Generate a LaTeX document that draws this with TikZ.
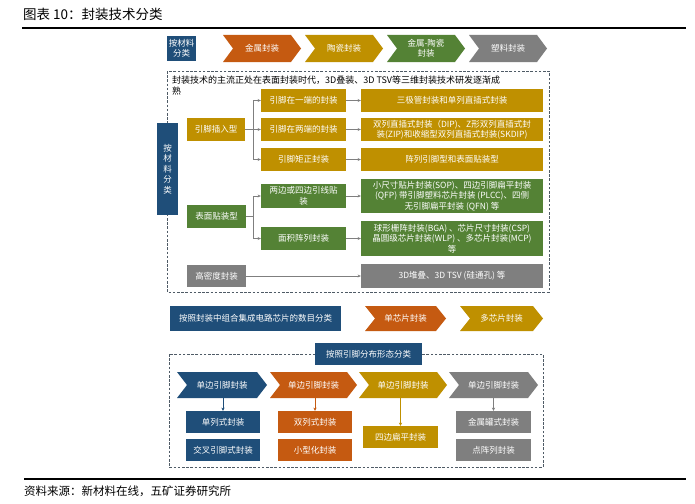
\documentclass[tikz,border=0pt]{standalone}
\usepackage{fontspec}
\setmainfont{Noto Sans CJK SC}
\usetikzlibrary{arrows.meta}
\definecolor{cblue}{HTML}{1F4E79}
\definecolor{corange}{HTML}{C55A11}
\definecolor{cgold}{HTML}{BF9000}
\definecolor{cgreen}{HTML}{548235}
\definecolor{cgray}{HTML}{7F7F7F}
\definecolor{cdash}{HTML}{4F5B66}
\tikzset{
  bx/.style={fill=#1, text=white, inner sep=0pt, align=center, font=\fontsize{8.5}{10.5}\selectfont},
  ctext/.style={text=white, inner sep=0pt, align=center, font=\fontsize{8.5}{10.5}\selectfont},
  hrule/.style={line width=2pt, black},
  dbox/.style={draw=cdash, line width=0.8pt, dash pattern=on 2.6pt off 1.6pt},
  gline/.style={draw=cgray, line width=0.6pt},
  garrow/.style={gline, -{Stealth[length=3.2pt,width=3pt]}},
  carrow/.style={draw=#1, line width=1pt, -{Stealth[length=3.2pt,width=3.2pt]}}
}
\newcommand{\rbox}[7]{%
  \node[bx=#6, minimum width={(#4-#2)*1pt}, minimum height={(#5-#3)*1pt}] (#1) at ({(#2+#4)/2},{(#3+#5)/2}) {#7};}
\newcommand{\mychev}[7]{%
  \fill[#6] (#2,#4) -- ({#3-10},#4) -- (#3,{(#4+#5)/2}) -- ({#3-10},#5) -- (#2,#5) -- ({#2+10},{(#4+#5)/2}) -- cycle;
  \node[ctext] (#1) at ({(#2+#3)/2},{(#4+#5)/2}) {#7};
  \coordinate (#1-s) at ({(#2+#3)/2},#5);}
\begin{document}
\begin{tikzpicture}[x=1pt,y=-1pt]
\useasboundingbox (0,0) rectangle (695,503);
\fill[white] (0,0) rectangle (695,503);
% title and rules
\node[anchor=west, inner sep=0pt, font=\fontsize{13.5}{16}\selectfont] (title) at (23,14) {图表 10：封装技术分类};
\draw[hrule] (22,28) -- (686,28);
\draw[hrule] (24,479) -- (686,479);
\node[anchor=west, inner sep=0pt, font=\fontsize{11.5}{14}\selectfont] (src) at (24,491) {资料来源：新材料在线，五矿证券研究所};
% top row
\rbox{m0}{167}{36}{196}{61}{cblue}{按材料\\分类}
\mychev{c1}{223}{301}{35}{62}{corange}{金属封装}
\mychev{c2}{305}{383}{35}{62}{cgold}{陶瓷封装}
\mychev{c3}{387}{465}{35}{62}{cgreen}{金属-陶瓷\\封装}
\mychev{c4}{469}{547}{35}{62}{cgray}{塑料封装}
% upper dashed box
\draw[dbox] (167,71) rectangle (549,292);
\node[anchor=north west, align=left, inner sep=0pt, font=\fontsize{9}{11}\selectfont] (intro) at (172,76) {封装技术的主流正处在表面封装时代，3D叠装、3D TSV等三维封装技术研发逐渐成\\熟};
\rbox{vm}{157}{123}{178}{215}{cblue}{按\\材\\料\\分\\类}
\rbox{a1}{187}{118}{245}{141}{cgold}{引脚插入型}
\rbox{b1}{261}{89}{346}{112}{cgold}{引脚在一端的封装}
\rbox{b2}{261}{118}{346}{141}{cgold}{引脚在两端的封装}
\rbox{b3}{261}{148}{346}{171}{cgold}{引脚矩正封装}
\rbox{r1}{361}{89}{543}{112}{cgold}{三极管封装和单列直插式封装}
\rbox{r2}{361}{118}{543}{141}{cgold}{双列直插式封装（DIP)、Z形双列直插式封\\装(ZIP)和收缩型双列直插式封装(SKDIP)}
\rbox{r3}{361}{148}{543}{171}{cgold}{阵列引脚型和表面贴装型}
\rbox{a2}{187}{205}{246}{228}{cgreen}{表面贴装型}
\rbox{b4}{261}{184}{346}{208}{cgreen}{两边或四边引线贴\\装}
\rbox{b5}{261}{227}{346}{250}{cgreen}{面积阵列封装}
\rbox{r4}{361}{179}{543}{213}{cgreen}{小尺寸贴片封装(SOP)、四边引脚扁平封装\\(QFP) 带引脚塑料芯片封装 (PLCC)、四侧\\无引脚扁平封装 (QFN) 等}
\rbox{r5}{361}{221}{543}{256}{cgreen}{球形栅阵封装(BGA) 、芯片尺寸封装(CSP)\\晶圆级芯片封装(WLP) 、多芯片封装(MCP)\\等}
\rbox{a3}{187}{265}{246}{287}{cgray}{高密度封装}
\rbox{r6}{361}{264}{543}{288}{cgray}{3D堆叠、3D TSV (硅通孔) 等}
% connectors upper
\coordinate (j1) at (253,129.5);
\coordinate (j2) at (253,216.5);
\draw[gline] (a1.east) -- (j1);
\draw[gline] (j1 |- b1) -- (j1 |- b3);
\draw[garrow] (j1 |- b1) -- (b1.west);
\draw[garrow] (j1 |- b2) -- (b2.west);
\draw[garrow] (j1 |- b3) -- (b3.west);
\draw[gline] (a2.east) -- (j2);
\draw[gline] (j2 |- b4) -- (j2 |- b5);
\draw[garrow] (j2 |- b4) -- (b4.west);
\draw[garrow] (j2 |- b5) -- (b5.west);
\draw[garrow] (b1.east) -- (r1.west);
\draw[garrow] (b2.east) -- (r2.west);
\draw[garrow] (b3.east) -- (r3.west);
\draw[garrow] (b4.east) -- (r4.west);
\draw[garrow] (b5.east) -- (r5.west);
\draw[garrow] (a3.east) -- (r6.west);
% middle row
\rbox{n1}{170}{306}{341}{331}{cblue}{按照封装中组合集成电路芯片的数目分类}
\mychev{s1}{365}{446}{306}{331}{corange}{单芯片封装}
\mychev{s2}{460}{543}{306}{331}{cgold}{多芯片封装}
% lower dashed box
\draw[dbox] (169,354) rectangle (543,467);
\rbox{h1}{315}{343}{422}{365}{cblue}{按照引脚分布形态分类}
\mychev{l1}{177}{267}{372}{398}{cblue}{单边引脚封装}
\mychev{l2}{270}{357}{372}{398}{corange}{单边引脚封装}
\mychev{l3}{359}{447}{372}{398}{cgold}{单边引脚封装}
\mychev{l4}{449}{538}{372}{398}{cgray}{单边引脚封装}
\rbox{p1}{186}{411}{260}{433}{cblue}{单列式封装}
\rbox{p2}{186}{439}{260}{461}{cblue}{交叉引脚式封装}
\rbox{q1}{278}{411}{352}{433}{corange}{双列式封装}
\rbox{q2}{278}{439}{352}{461}{corange}{小型化封装}
\rbox{u1}{363}{426}{438}{448}{cgold}{四边扁平封装}
\rbox{v1}{456}{411}{531}{433}{cgray}{金属罐式封装}
\rbox{v2}{456}{439}{531}{461}{cgray}{点阵列封装}
\draw[carrow=cblue] (p1.north |- l1-s) -- (p1.north);
\draw[carrow=corange] (q1.north |- l2-s) -- (q1.north);
\draw[carrow=cgold] (u1.north |- l3-s) -- (u1.north);
\draw[carrow=cgray] (v1.north |- l4-s) -- (v1.north);
\end{tikzpicture}
\end{document}
